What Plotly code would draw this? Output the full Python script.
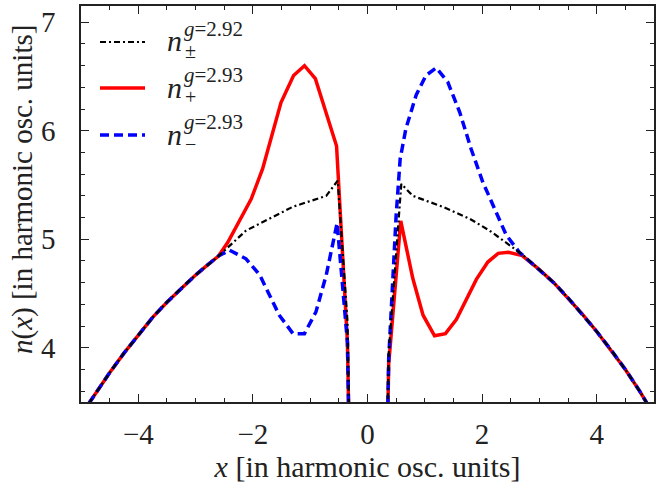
import plotly.graph_objects as go

# ---------------- data ----------------
x_pm = [-5.0, -4.75, -4.5, -4.25, -4.0, -3.75, -3.5, -3.25, -3.0, -2.8, -2.6, -2.12, -1.71, -1.30,
        -0.72, -0.52, -0.35, -0.15,
        0.17, 0.37, 0.59, 0.79, 1.31, 1.78, 2.13, 2.48, 2.7, 3.0, 3.25, 3.5, 3.75, 4.0,
        4.25, 4.5, 4.75, 5.0]
n_pm_292 = [3.38, 3.58, 3.77, 3.95, 4.12, 4.28, 4.42, 4.55, 4.67, 4.76, 4.845, 5.08, 5.19, 5.30,
            5.40, 5.54, 4.25, -2.0,
            -2.0, 3.95, 5.51, 5.40, 5.30, 5.19, 5.08, 4.94, 4.86, 4.72, 4.60, 4.46, 4.31, 4.15,
            3.98, 3.80, 3.60, 3.38]

x_p = [-5.0, -4.75, -4.5, -4.25, -4.0, -3.75, -3.5, -3.25, -3.0, -2.8, -2.6, -2.44, -2.26, -2.03,
       -1.83, -1.51, -1.29, -1.10, -0.91, -0.54, -0.35, -0.15,
       0.17, 0.37, 0.58, 0.79, 0.97, 1.17, 1.36, 1.55, 1.90, 2.10, 2.28, 2.46, 2.7, 3.0,
       3.25, 3.5, 3.75, 4.0, 4.25, 4.5, 4.75, 5.0]
n_p_293 = [3.38, 3.58, 3.77, 3.95, 4.12, 4.28, 4.42, 4.55, 4.67, 4.76, 4.845, 4.97, 5.14, 5.37,
           5.65, 6.26, 6.51, 6.60, 6.48, 5.86, 4.05, -2.0,
           -2.0, 3.85, 5.17, 4.64, 4.30, 4.11, 4.13, 4.26, 4.63, 4.79, 4.87, 4.88, 4.85, 4.72,
           4.60, 4.46, 4.31, 4.15, 3.98, 3.80, 3.60, 3.38]

x_m = [-5.0, -4.75, -4.5, -4.25, -4.0, -3.75, -3.5, -3.25, -3.0, -2.8, -2.6, -2.41, -2.12, -1.88,
       -1.54, -1.30, -1.10, -0.90, -0.72, -0.53, -0.35, -0.15,
       0.17, 0.37, 0.44, 0.50, 0.57, 0.67, 0.85, 1.02, 1.20, 1.40, 1.61, 1.81, 2.01, 2.22, 2.42,
       2.65, 3.0, 3.25, 3.5, 3.75, 4.0, 4.25, 4.5, 4.75, 5.0]
n_m_293 = [3.38, 3.58, 3.77, 3.95, 4.12, 4.28, 4.42, 4.55, 4.67, 4.76, 4.845, 4.90, 4.82, 4.67,
           4.30, 4.13, 4.13, 4.33, 4.67, 5.15, 4.05, -2.0,
           -2.0, 3.90, 4.60, 5.22, 5.74, 6.02, 6.33, 6.51, 6.58, 6.45, 6.17, 5.83, 5.53, 5.28, 5.04,
           4.88, 4.72, 4.60, 4.46, 4.31, 4.15, 3.98, 3.80, 3.60, 3.38]

x_ticks = [-4, -2, 0, 2, 4]
x_tick_text = ["−4", "−2", "0", "2", "4"]
y_ticks = [4, 5, 6, 7]

# ---------------- geometry helpers (pixels -> paper) ----------------
W, H = 656, 487
ML, MR, MT, MB = 81, 2, 6, 85
PW, PH = W - ML - MR, H - MT - MB


def px(xp):
    return (xp - ML) / PW


def py(yp):
    return (H - MB - yp) / PH


FONT = "Liberation Serif, DejaVu Serif, serif"
TXT = "#222"
BLACK_DASH = "6px,3px,2px,3px"
BLUE_DASH = "9px,5px"

fig = go.Figure()
fig.add_trace(go.Scatter(x=x_p, y=n_p_293, mode="lines", name="n+ g=2.93",
                         line=dict(color="#ff0000", width=3.5), showlegend=False))
fig.add_trace(go.Scatter(x=x_m, y=n_m_293, mode="lines", name="n- g=2.93",
                         line=dict(color="#0000ff", width=3.5, dash=BLUE_DASH), showlegend=False))
fig.add_trace(go.Scatter(x=x_pm, y=n_pm_292, mode="lines", name="n± g=2.92",
                         line=dict(color="#000000", width=2.2, dash=BLACK_DASH), showlegend=False))

# ---------------- legend (manual, math-like) ----------------
legend_rows = [
    (42, "#000000", 2.2, BLACK_DASH, "±", "2.92"),
    (88, "#ff0000", 3.5, "solid", "+", "2.93"),
    (135, "#0000ff", 3.5, BLUE_DASH, "−", "2.93"),
]
shapes = []
annots = []
for yc, col, wd, dsh, sub, gval in legend_rows:
    shapes.append(dict(type="line", xref="paper", yref="paper",
                       x0=px(100), x1=px(145), y0=py(yc), y1=py(yc),
                       line=dict(color=col, width=wd, dash=dsh)))
    annots.append(dict(xref="paper", yref="paper", x=px(165), y=py(yc - 1),
                       xanchor="left", yanchor="middle", showarrow=False,
                       text="<i>n</i>", font=dict(family=FONT, size=30, color=TXT)))
    annots.append(dict(xref="paper", yref="paper", x=px(182), y=py(yc - 13),
                       xanchor="left", yanchor="middle", showarrow=False,
                       text="<i>g</i>=" + gval, font=dict(family=FONT, size=21, color=TXT)))
    annots.append(dict(xref="paper", yref="paper", x=px(183), y=py(yc + 9),
                       xanchor="left", yanchor="middle", showarrow=False,
                       text=sub, font=dict(family=FONT, size=20, color=TXT)))

# y-axis title placed as a rotated annotation (matches reference offset)
annots.append(dict(xref="paper", yref="paper", x=px(22), y=py(190),
                   xanchor="center", yanchor="middle", showarrow=False, textangle=-90,
                   text="<i>n</i>(<i>x</i>) [in harmonic osc. units]",
                   font=dict(family=FONT, size=29, color=TXT)))

axis_common = dict(
    showline=True, linecolor=TXT, linewidth=1.5, mirror="allticks",
    ticks="inside", ticklen=8, tickwidth=1.2, tickcolor=TXT,
    showgrid=False, zeroline=False,
    tickfont=dict(family=FONT, size=29, color=TXT),
)

fig.update_layout(
    width=W, height=H,
    font=dict(family=FONT, color=TXT),
    margin=dict(l=ML, r=MR, t=MT, b=MB, autoexpand=False),
    paper_bgcolor="white", plot_bgcolor="white",
    showlegend=False,
    shapes=shapes, annotations=annots,
    xaxis=dict(range=[-5, 5], tickvals=x_ticks, ticktext=x_tick_text,
               minor=dict(ticks="inside", ticklen=4, dtick=0.5, tick0=0, tickcolor=TXT, tickwidth=1),
               ticklabelstandoff=5,
               title=dict(text="<i>x</i> [in harmonic osc. units]",
                          font=dict(family=FONT, size=30, color=TXT), standoff=0),
               **axis_common),
    yaxis=dict(range=[3.5, 7.15], tickvals=y_ticks,
               minor=dict(ticks="inside", ticklen=4, dtick=0.2, tick0=0, tickcolor=TXT, tickwidth=1),
               ticklabelstandoff=18,
               **axis_common),
)

fig.write_html("out.html")
